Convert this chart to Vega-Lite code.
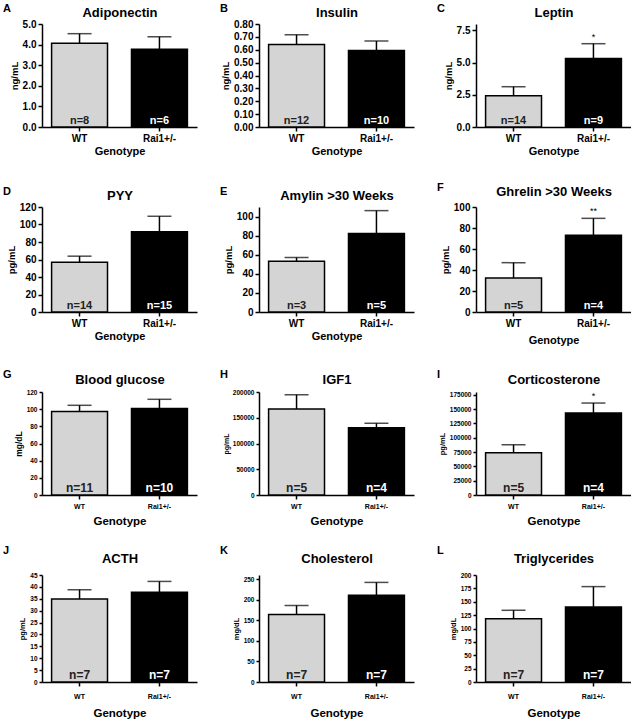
{
"$schema":"https://vega.github.io/schema/vega-lite/v6.json",
"padding":{"left":3,"top":3,"right":0,"bottom":0},
"data":{"values":[
{"panel":"A","genotype":"WT","mean":4.07,"upper":4.53,"nlabel":"n=8","sig":""},
{"panel":"A","genotype":"Rai1+/-","mean":3.78,"upper":4.38,"nlabel":"n=6","sig":""},
{"panel":"B","genotype":"WT","mean":0.64,"upper":0.716,"nlabel":"n=12","sig":""},
{"panel":"B","genotype":"Rai1+/-","mean":0.595,"upper":0.668,"nlabel":"n=10","sig":""},
{"panel":"C","genotype":"WT","mean":2.43,"upper":3.13,"nlabel":"n=14","sig":""},
{"panel":"C","genotype":"Rai1+/-","mean":5.32,"upper":6.47,"nlabel":"n=9","sig":"*"},
{"panel":"D","genotype":"WT","mean":57,"upper":63.8,"nlabel":"n=14","sig":""},
{"panel":"D","genotype":"Rai1+/-","mean":91.7,"upper":109.4,"nlabel":"n=15","sig":""},
{"panel":"E","genotype":"WT","mean":53.1,"upper":57,"nlabel":"n=3","sig":""},
{"panel":"E","genotype":"Rai1+/-","mean":82.3,"upper":106.2,"nlabel":"n=5","sig":""},
{"panel":"F","genotype":"WT","mean":32.4,"upper":47,"nlabel":"n=5","sig":""},
{"panel":"F","genotype":"Rai1+/-","mean":73,"upper":89.2,"nlabel":"n=4","sig":"**"},
{"panel":"G","genotype":"WT","mean":97.2,"upper":104.5,"nlabel":"n=11","sig":""},
{"panel":"G","genotype":"Rai1+/-","mean":100.7,"upper":111.5,"nlabel":"n=10","sig":""},
{"panel":"H","genotype":"WT","mean":167000,"upper":194700,"nlabel":"n=5","sig":""},
{"panel":"H","genotype":"Rai1+/-","mean":130700,"upper":139300,"nlabel":"n=4","sig":""},
{"panel":"I","genotype":"WT","mean":74000,"upper":87800,"nlabel":"n=5","sig":""},
{"panel":"I","genotype":"Rai1+/-","mean":143400,"upper":160700,"nlabel":"n=4","sig":"*"},
{"panel":"J","genotype":"WT","mean":34.9,"upper":38.8,"nlabel":"n=7","sig":""},
{"panel":"J","genotype":"Rai1+/-","mean":37.7,"upper":42.3,"nlabel":"n=7","sig":""},
{"panel":"K","genotype":"WT","mean":164,"upper":186,"nlabel":"n=7","sig":""},
{"panel":"K","genotype":"Rai1+/-","mean":211,"upper":242,"nlabel":"n=7","sig":""},
{"panel":"L","genotype":"WT","mean":118,"upper":134,"nlabel":"n=7","sig":""},
{"panel":"L","genotype":"Rai1+/-","mean":140.4,"upper":178.3,"nlabel":"n=7","sig":""}
]},
"columns":3,
"spacing":{"row":80,"column":62},
"bounds":"flush",
"concat":[
{"width":155,"height":103,"transform":[{"filter":"datum.panel==='A'"}],
 "title":{"text":"A","anchor":"start","frame":"group","dx":-39,"offset":-8},
 "resolve":{"axis":{"x":"independent","y":"independent"}},
 "layer":[
  {"mark":{"type":"bar","stroke":"black","strokeWidth":1.5},"encoding":{
   "x":{"field":"genotype","type":"nominal","sort":["WT","Rai1+/-"],"scale":{"paddingInner":0.3,"paddingOuter":0.12},"axis":{"orient":"bottom","title":"Genotype","labelFontSize":10,"titleFontSize":11,"labelPadding":2,"titlePadding":2}},
   "y":{"field":"mean","type":"quantitative","scale":{"domain":[0,5]},"axis":{"orient":"left","title":"ng/mL","values":[0,1,2,3,4,5],"format":".1f","labelFontSize":10,"titleFontSize":9.5}},
   "color":{"field":"genotype","type":"nominal","scale":{"domain":["WT","Rai1+/-"],"range":["#d4d4d4","#000000"]},"legend":null}}},
  {"mark":{"type":"rule","color":"black","strokeWidth":1.5},"encoding":{"x":{"field":"genotype","type":"nominal","sort":["WT","Rai1+/-"],"axis":null},"y":{"field":"mean","type":"quantitative","axis":null},"y2":{"field":"upper"}}},
  {"mark":{"type":"tick","color":"black","thickness":1.5,"size":24,"orient":"horizontal"},"encoding":{"x":{"field":"genotype","type":"nominal","sort":["WT","Rai1+/-"],"axis":null},"y":{"field":"upper","type":"quantitative","axis":null}}},
  {"mark":{"type":"text","fontWeight":"bold","fontSize":11,"baseline":"alphabetic","dy":-3},"encoding":{"x":{"field":"genotype","type":"nominal","sort":["WT","Rai1+/-"],"axis":null},"y":{"datum":0,"axis":null},"text":{"field":"nlabel"},"color":{"condition":{"test":"datum.genotype==='WT'","value":"#222222"},"value":"white"}}},
  {"mark":{"type":"text","fontSize":9,"baseline":"bottom","dy":-2},"encoding":{"x":{"field":"genotype","type":"nominal","sort":["WT","Rai1+/-"],"axis":{"orient":"top","title":"Adiponectin","labels":false,"ticks":false,"domain":false,"titleFontSize":13,"titlePadding":5}},"y":{"field":"upper","type":"quantitative","axis":null},"text":{"field":"sig"}}}
 ]},
{"width":155,"height":103,"transform":[{"filter":"datum.panel==='B'"}],
 "title":{"text":"B","anchor":"start","frame":"group","dx":-39,"offset":-8},
 "resolve":{"axis":{"x":"independent","y":"independent"}},
 "layer":[
  {"mark":{"type":"bar","stroke":"black","strokeWidth":1.5},"encoding":{
   "x":{"field":"genotype","type":"nominal","sort":["WT","Rai1+/-"],"scale":{"paddingInner":0.3,"paddingOuter":0.12},"axis":{"orient":"bottom","title":"Genotype","labelFontSize":10,"titleFontSize":11,"labelPadding":2,"titlePadding":2}},
   "y":{"field":"mean","type":"quantitative","scale":{"domain":[0,0.8]},"axis":{"orient":"left","title":"ng/mL","values":[0,0.1,0.2,0.3,0.4,0.5,0.6,0.7,0.8],"format":".2f","labelFontSize":10,"titleFontSize":9.5}},
   "color":{"field":"genotype","type":"nominal","scale":{"domain":["WT","Rai1+/-"],"range":["#d4d4d4","#000000"]},"legend":null}}},
  {"mark":{"type":"rule","color":"black","strokeWidth":1.5},"encoding":{"x":{"field":"genotype","type":"nominal","sort":["WT","Rai1+/-"],"axis":null},"y":{"field":"mean","type":"quantitative","axis":null},"y2":{"field":"upper"}}},
  {"mark":{"type":"tick","color":"black","thickness":1.5,"size":24,"orient":"horizontal"},"encoding":{"x":{"field":"genotype","type":"nominal","sort":["WT","Rai1+/-"],"axis":null},"y":{"field":"upper","type":"quantitative","axis":null}}},
  {"mark":{"type":"text","fontWeight":"bold","fontSize":11,"baseline":"alphabetic","dy":-3},"encoding":{"x":{"field":"genotype","type":"nominal","sort":["WT","Rai1+/-"],"axis":null},"y":{"datum":0,"axis":null},"text":{"field":"nlabel"},"color":{"condition":{"test":"datum.genotype==='WT'","value":"#222222"},"value":"white"}}},
  {"mark":{"type":"text","fontSize":9,"baseline":"bottom","dy":-2},"encoding":{"x":{"field":"genotype","type":"nominal","sort":["WT","Rai1+/-"],"axis":{"orient":"top","title":"Insulin","labels":false,"ticks":false,"domain":false,"titleFontSize":13,"titlePadding":5}},"y":{"field":"upper","type":"quantitative","axis":null},"text":{"field":"sig"}}}
 ]},
{"width":155,"height":103,"transform":[{"filter":"datum.panel==='C'"}],
 "title":{"text":"C","anchor":"start","frame":"group","dx":-39,"offset":-8},
 "resolve":{"axis":{"x":"independent","y":"independent"}},
 "layer":[
  {"mark":{"type":"bar","stroke":"black","strokeWidth":1.5},"encoding":{
   "x":{"field":"genotype","type":"nominal","sort":["WT","Rai1+/-"],"scale":{"paddingInner":0.3,"paddingOuter":0.12},"axis":{"orient":"bottom","title":"Genotype","labelFontSize":10,"titleFontSize":11,"labelPadding":2,"titlePadding":2}},
   "y":{"field":"mean","type":"quantitative","scale":{"domain":[0,7.5]},"axis":{"orient":"left","title":"ng/mL","values":[0,2.5,5,7.5],"format":".1f","labelFontSize":10,"titleFontSize":9.5}},
   "color":{"field":"genotype","type":"nominal","scale":{"domain":["WT","Rai1+/-"],"range":["#d4d4d4","#000000"]},"legend":null}}},
  {"mark":{"type":"rule","color":"black","strokeWidth":1.5},"encoding":{"x":{"field":"genotype","type":"nominal","sort":["WT","Rai1+/-"],"axis":null},"y":{"field":"mean","type":"quantitative","axis":null},"y2":{"field":"upper"}}},
  {"mark":{"type":"tick","color":"black","thickness":1.5,"size":24,"orient":"horizontal"},"encoding":{"x":{"field":"genotype","type":"nominal","sort":["WT","Rai1+/-"],"axis":null},"y":{"field":"upper","type":"quantitative","axis":null}}},
  {"mark":{"type":"text","fontWeight":"bold","fontSize":11,"baseline":"alphabetic","dy":-3},"encoding":{"x":{"field":"genotype","type":"nominal","sort":["WT","Rai1+/-"],"axis":null},"y":{"datum":0,"axis":null},"text":{"field":"nlabel"},"color":{"condition":{"test":"datum.genotype==='WT'","value":"#222222"},"value":"white"}}},
  {"mark":{"type":"text","fontSize":9,"baseline":"bottom","dy":-2},"encoding":{"x":{"field":"genotype","type":"nominal","sort":["WT","Rai1+/-"],"axis":{"orient":"top","title":"Leptin","labels":false,"ticks":false,"domain":false,"titleFontSize":13,"titlePadding":5}},"y":{"field":"upper","type":"quantitative","axis":null},"text":{"field":"sig"}}}
 ]},
{"width":155,"height":105,"transform":[{"filter":"datum.panel==='D'"}],
 "title":{"text":"D","anchor":"start","frame":"group","dx":-39,"offset":-8},
 "resolve":{"axis":{"x":"independent","y":"independent"}},
 "layer":[
  {"mark":{"type":"bar","stroke":"black","strokeWidth":1.5},"encoding":{
   "x":{"field":"genotype","type":"nominal","sort":["WT","Rai1+/-"],"scale":{"paddingInner":0.3,"paddingOuter":0.12},"axis":{"orient":"bottom","title":"Genotype","labelFontSize":10,"titleFontSize":11,"labelPadding":2,"titlePadding":2}},
   "y":{"field":"mean","type":"quantitative","scale":{"domain":[0,120]},"axis":{"orient":"left","title":"pg/mL","values":[0,20,40,60,80,100,120],"format":"d","labelFontSize":10,"titleFontSize":9.5}},
   "color":{"field":"genotype","type":"nominal","scale":{"domain":["WT","Rai1+/-"],"range":["#d4d4d4","#000000"]},"legend":null}}},
  {"mark":{"type":"rule","color":"black","strokeWidth":1.5},"encoding":{"x":{"field":"genotype","type":"nominal","sort":["WT","Rai1+/-"],"axis":null},"y":{"field":"mean","type":"quantitative","axis":null},"y2":{"field":"upper"}}},
  {"mark":{"type":"tick","color":"black","thickness":1.5,"size":24,"orient":"horizontal"},"encoding":{"x":{"field":"genotype","type":"nominal","sort":["WT","Rai1+/-"],"axis":null},"y":{"field":"upper","type":"quantitative","axis":null}}},
  {"mark":{"type":"text","fontWeight":"bold","fontSize":11,"baseline":"alphabetic","dy":-3},"encoding":{"x":{"field":"genotype","type":"nominal","sort":["WT","Rai1+/-"],"axis":null},"y":{"datum":0,"axis":null},"text":{"field":"nlabel"},"color":{"condition":{"test":"datum.genotype==='WT'","value":"#222222"},"value":"white"}}},
  {"mark":{"type":"text","fontSize":9,"baseline":"bottom","dy":-2},"encoding":{"x":{"field":"genotype","type":"nominal","sort":["WT","Rai1+/-"],"axis":{"orient":"top","title":"PYY","labels":false,"ticks":false,"domain":false,"titleFontSize":13,"titlePadding":5}},"y":{"field":"upper","type":"quantitative","axis":null},"text":{"field":"sig"}}}
 ]},
{"width":155,"height":105,"transform":[{"filter":"datum.panel==='E'"}],
 "title":{"text":"E","anchor":"start","frame":"group","dx":-39,"offset":-8},
 "resolve":{"axis":{"x":"independent","y":"independent"}},
 "layer":[
  {"mark":{"type":"bar","stroke":"black","strokeWidth":1.5},"encoding":{
   "x":{"field":"genotype","type":"nominal","sort":["WT","Rai1+/-"],"scale":{"paddingInner":0.3,"paddingOuter":0.12},"axis":{"orient":"bottom","title":"Genotype","labelFontSize":10,"titleFontSize":11,"labelPadding":2,"titlePadding":2}},
   "y":{"field":"mean","type":"quantitative","scale":{"domain":[0,110]},"axis":{"orient":"left","title":"pg/mL","values":[0,20,40,60,80,100],"format":"d","labelFontSize":10,"titleFontSize":9.5}},
   "color":{"field":"genotype","type":"nominal","scale":{"domain":["WT","Rai1+/-"],"range":["#d4d4d4","#000000"]},"legend":null}}},
  {"mark":{"type":"rule","color":"black","strokeWidth":1.5},"encoding":{"x":{"field":"genotype","type":"nominal","sort":["WT","Rai1+/-"],"axis":null},"y":{"field":"mean","type":"quantitative","axis":null},"y2":{"field":"upper"}}},
  {"mark":{"type":"tick","color":"black","thickness":1.5,"size":24,"orient":"horizontal"},"encoding":{"x":{"field":"genotype","type":"nominal","sort":["WT","Rai1+/-"],"axis":null},"y":{"field":"upper","type":"quantitative","axis":null}}},
  {"mark":{"type":"text","fontWeight":"bold","fontSize":11,"baseline":"alphabetic","dy":-3},"encoding":{"x":{"field":"genotype","type":"nominal","sort":["WT","Rai1+/-"],"axis":null},"y":{"datum":0,"axis":null},"text":{"field":"nlabel"},"color":{"condition":{"test":"datum.genotype==='WT'","value":"#222222"},"value":"white"}}},
  {"mark":{"type":"text","fontSize":9,"baseline":"bottom","dy":-2},"encoding":{"x":{"field":"genotype","type":"nominal","sort":["WT","Rai1+/-"],"axis":{"orient":"top","title":"Amylin >30 Weeks","labels":false,"ticks":false,"domain":false,"titleFontSize":13,"titlePadding":5}},"y":{"field":"upper","type":"quantitative","axis":null},"text":{"field":"sig"}}}
 ]},
{"width":155,"height":105,"transform":[{"filter":"datum.panel==='F'"}],
 "title":{"text":"F","anchor":"start","frame":"group","dx":-39,"offset":-8},
 "resolve":{"axis":{"x":"independent","y":"independent"}},
 "layer":[
  {"mark":{"type":"bar","stroke":"black","strokeWidth":1.5},"encoding":{
   "x":{"field":"genotype","type":"nominal","sort":["WT","Rai1+/-"],"scale":{"paddingInner":0.3,"paddingOuter":0.12},"axis":{"orient":"bottom","title":"Genotype","labelFontSize":10,"titleFontSize":11,"labelPadding":2,"titlePadding":6}},
   "y":{"field":"mean","type":"quantitative","scale":{"domain":[0,100]},"axis":{"orient":"left","title":"pg/mL","values":[0,20,40,60,80,100],"format":"d","labelFontSize":10,"titleFontSize":9.5}},
   "color":{"field":"genotype","type":"nominal","scale":{"domain":["WT","Rai1+/-"],"range":["#d4d4d4","#000000"]},"legend":null}}},
  {"mark":{"type":"rule","color":"black","strokeWidth":1.5},"encoding":{"x":{"field":"genotype","type":"nominal","sort":["WT","Rai1+/-"],"axis":null},"y":{"field":"mean","type":"quantitative","axis":null},"y2":{"field":"upper"}}},
  {"mark":{"type":"tick","color":"black","thickness":1.5,"size":24,"orient":"horizontal"},"encoding":{"x":{"field":"genotype","type":"nominal","sort":["WT","Rai1+/-"],"axis":null},"y":{"field":"upper","type":"quantitative","axis":null}}},
  {"mark":{"type":"text","fontWeight":"bold","fontSize":11,"baseline":"alphabetic","dy":-3},"encoding":{"x":{"field":"genotype","type":"nominal","sort":["WT","Rai1+/-"],"axis":null},"y":{"datum":0,"axis":null},"text":{"field":"nlabel"},"color":{"condition":{"test":"datum.genotype==='WT'","value":"#222222"},"value":"white"}}},
  {"mark":{"type":"text","fontSize":9,"baseline":"bottom","dy":-2},"encoding":{"x":{"field":"genotype","type":"nominal","sort":["WT","Rai1+/-"],"axis":{"orient":"top","title":"Ghrelin >30 Weeks","labels":false,"ticks":false,"domain":false,"titleFontSize":13,"titlePadding":9}},"y":{"field":"upper","type":"quantitative","axis":null},"text":{"field":"sig"}}}
 ]},
{"width":155,"height":103,"transform":[{"filter":"datum.panel==='G'"}],
 "title":{"text":"G","anchor":"start","frame":"group","dx":-39,"offset":-7},
 "resolve":{"axis":{"x":"independent","y":"independent"}},
 "layer":[
  {"mark":{"type":"bar","stroke":"black","strokeWidth":1.5},"encoding":{
   "x":{"field":"genotype","type":"nominal","sort":["WT","Rai1+/-"],"scale":{"paddingInner":0.3,"paddingOuter":0.12},"axis":{"orient":"bottom","title":"Genotype","labelFontSize":7,"titleFontSize":11.5,"labelPadding":3,"titlePadding":6}},
   "y":{"field":"mean","type":"quantitative","scale":{"domain":[0,120]},"axis":{"orient":"left","title":"mg/dL","values":[0,20,40,60,80,100,120],"format":"d","labelFontSize":6.5,"titleFontSize":8.5,"tickSize":3}},
   "color":{"field":"genotype","type":"nominal","scale":{"domain":["WT","Rai1+/-"],"range":["#d4d4d4","#000000"]},"legend":null}}},
  {"mark":{"type":"rule","color":"black","strokeWidth":1.5},"encoding":{"x":{"field":"genotype","type":"nominal","sort":["WT","Rai1+/-"],"axis":null},"y":{"field":"mean","type":"quantitative","axis":null},"y2":{"field":"upper"}}},
  {"mark":{"type":"tick","color":"black","thickness":1.5,"size":24,"orient":"horizontal"},"encoding":{"x":{"field":"genotype","type":"nominal","sort":["WT","Rai1+/-"],"axis":null},"y":{"field":"upper","type":"quantitative","axis":null}}},
  {"mark":{"type":"text","fontWeight":"bold","fontSize":12,"baseline":"alphabetic","dy":-3},"encoding":{"x":{"field":"genotype","type":"nominal","sort":["WT","Rai1+/-"],"axis":null},"y":{"datum":0,"axis":null},"text":{"field":"nlabel"},"color":{"condition":{"test":"datum.genotype==='WT'","value":"#222222"},"value":"white"}}},
  {"mark":{"type":"text","fontSize":9,"baseline":"bottom","dy":-2},"encoding":{"x":{"field":"genotype","type":"nominal","sort":["WT","Rai1+/-"],"axis":{"orient":"top","title":"Blood glucose","labels":false,"ticks":false,"domain":false,"titleFontSize":13,"titlePadding":6}},"y":{"field":"upper","type":"quantitative","axis":null},"text":{"field":"sig"}}}
 ]},
{"width":155,"height":103,"transform":[{"filter":"datum.panel==='H'"}],
 "title":{"text":"H","anchor":"start","frame":"group","dx":-39,"offset":-7},
 "resolve":{"axis":{"x":"independent","y":"independent"}},
 "layer":[
  {"mark":{"type":"bar","stroke":"black","strokeWidth":1.5},"encoding":{
   "x":{"field":"genotype","type":"nominal","sort":["WT","Rai1+/-"],"scale":{"paddingInner":0.3,"paddingOuter":0.12},"axis":{"orient":"bottom","title":"Genotype","labelFontSize":7,"titleFontSize":11.5,"labelPadding":3,"titlePadding":6}},
   "y":{"field":"mean","type":"quantitative","scale":{"domain":[0,200000]},"axis":{"orient":"left","title":"pg/mL","values":[0,50000,100000,150000,200000],"format":"d","labelFontSize":6.5,"titleFontSize":7,"tickSize":3}},
   "color":{"field":"genotype","type":"nominal","scale":{"domain":["WT","Rai1+/-"],"range":["#d4d4d4","#000000"]},"legend":null}}},
  {"mark":{"type":"rule","color":"black","strokeWidth":1.5},"encoding":{"x":{"field":"genotype","type":"nominal","sort":["WT","Rai1+/-"],"axis":null},"y":{"field":"mean","type":"quantitative","axis":null},"y2":{"field":"upper"}}},
  {"mark":{"type":"tick","color":"black","thickness":1.5,"size":24,"orient":"horizontal"},"encoding":{"x":{"field":"genotype","type":"nominal","sort":["WT","Rai1+/-"],"axis":null},"y":{"field":"upper","type":"quantitative","axis":null}}},
  {"mark":{"type":"text","fontWeight":"bold","fontSize":12,"baseline":"alphabetic","dy":-3},"encoding":{"x":{"field":"genotype","type":"nominal","sort":["WT","Rai1+/-"],"axis":null},"y":{"datum":0,"axis":null},"text":{"field":"nlabel"},"color":{"condition":{"test":"datum.genotype==='WT'","value":"#222222"},"value":"white"}}},
  {"mark":{"type":"text","fontSize":9,"baseline":"bottom","dy":-2},"encoding":{"x":{"field":"genotype","type":"nominal","sort":["WT","Rai1+/-"],"axis":{"orient":"top","title":"IGF1","labels":false,"ticks":false,"domain":false,"titleFontSize":13,"titlePadding":6}},"y":{"field":"upper","type":"quantitative","axis":null},"text":{"field":"sig"}}}
 ]},
{"width":155,"height":103,"transform":[{"filter":"datum.panel==='I'"}],
 "title":{"text":"I","anchor":"start","frame":"group","dx":-39,"offset":-7},
 "resolve":{"axis":{"x":"independent","y":"independent"}},
 "layer":[
  {"mark":{"type":"bar","stroke":"black","strokeWidth":1.5},"encoding":{
   "x":{"field":"genotype","type":"nominal","sort":["WT","Rai1+/-"],"scale":{"paddingInner":0.3,"paddingOuter":0.12},"axis":{"orient":"bottom","title":"Genotype","labelFontSize":7,"titleFontSize":11.5,"labelPadding":3,"titlePadding":6}},
   "y":{"field":"mean","type":"quantitative","scale":{"domain":[0,175000]},"axis":{"orient":"left","title":"pg/mL","values":[0,25000,50000,75000,100000,125000,150000,175000],"format":"d","labelFontSize":6.5,"titleFontSize":7.5,"tickSize":3}},
   "color":{"field":"genotype","type":"nominal","scale":{"domain":["WT","Rai1+/-"],"range":["#d4d4d4","#000000"]},"legend":null}}},
  {"mark":{"type":"rule","color":"black","strokeWidth":1.5},"encoding":{"x":{"field":"genotype","type":"nominal","sort":["WT","Rai1+/-"],"axis":null},"y":{"field":"mean","type":"quantitative","axis":null},"y2":{"field":"upper"}}},
  {"mark":{"type":"tick","color":"black","thickness":1.5,"size":24,"orient":"horizontal"},"encoding":{"x":{"field":"genotype","type":"nominal","sort":["WT","Rai1+/-"],"axis":null},"y":{"field":"upper","type":"quantitative","axis":null}}},
  {"mark":{"type":"text","fontWeight":"bold","fontSize":12,"baseline":"alphabetic","dy":-3},"encoding":{"x":{"field":"genotype","type":"nominal","sort":["WT","Rai1+/-"],"axis":null},"y":{"datum":0,"axis":null},"text":{"field":"nlabel"},"color":{"condition":{"test":"datum.genotype==='WT'","value":"#222222"},"value":"white"}}},
  {"mark":{"type":"text","fontSize":9,"baseline":"bottom","dy":-2},"encoding":{"x":{"field":"genotype","type":"nominal","sort":["WT","Rai1+/-"],"axis":{"orient":"top","title":"Corticosterone","labels":false,"ticks":false,"domain":false,"titleFontSize":13,"titlePadding":6}},"y":{"field":"upper","type":"quantitative","axis":null},"text":{"field":"sig"}}}
 ]},
{"width":155,"height":107,"transform":[{"filter":"datum.panel==='J'"}],
 "title":{"text":"J","anchor":"start","frame":"group","dx":-39,"offset":-4},
 "resolve":{"axis":{"x":"independent","y":"independent"}},
 "layer":[
  {"mark":{"type":"bar","stroke":"black","strokeWidth":1.5},"encoding":{
   "x":{"field":"genotype","type":"nominal","sort":["WT","Rai1+/-"],"scale":{"paddingInner":0.3,"paddingOuter":0.12},"axis":{"orient":"bottom","title":"Genotype","labelFontSize":7,"titleFontSize":11.5,"labelPadding":6,"titlePadding":8}},
   "y":{"field":"mean","type":"quantitative","scale":{"domain":[0,45]},"axis":{"orient":"left","title":"pg/mL","values":[0,5,10,15,20,25,30,35,40,45],"format":"d","labelFontSize":6.5,"titleFontSize":7.5,"tickSize":3}},
   "color":{"field":"genotype","type":"nominal","scale":{"domain":["WT","Rai1+/-"],"range":["#d4d4d4","#000000"]},"legend":null}}},
  {"mark":{"type":"rule","color":"black","strokeWidth":1.5},"encoding":{"x":{"field":"genotype","type":"nominal","sort":["WT","Rai1+/-"],"axis":null},"y":{"field":"mean","type":"quantitative","axis":null},"y2":{"field":"upper"}}},
  {"mark":{"type":"tick","color":"black","thickness":1.5,"size":24,"orient":"horizontal"},"encoding":{"x":{"field":"genotype","type":"nominal","sort":["WT","Rai1+/-"],"axis":null},"y":{"field":"upper","type":"quantitative","axis":null}}},
  {"mark":{"type":"text","fontWeight":"bold","fontSize":12,"baseline":"alphabetic","dy":-3},"encoding":{"x":{"field":"genotype","type":"nominal","sort":["WT","Rai1+/-"],"axis":null},"y":{"datum":0,"axis":null},"text":{"field":"nlabel"},"color":{"condition":{"test":"datum.genotype==='WT'","value":"#222222"},"value":"white"}}},
  {"mark":{"type":"text","fontSize":9,"baseline":"bottom","dy":-2},"encoding":{"x":{"field":"genotype","type":"nominal","sort":["WT","Rai1+/-"],"axis":{"orient":"top","title":"ACTH","labels":false,"ticks":false,"domain":false,"titleFontSize":13,"titlePadding":10}},"y":{"field":"upper","type":"quantitative","axis":null},"text":{"field":"sig"}}}
 ]},
{"width":155,"height":107,"transform":[{"filter":"datum.panel==='K'"}],
 "title":{"text":"K","anchor":"start","frame":"group","dx":-39,"offset":-4},
 "resolve":{"axis":{"x":"independent","y":"independent"}},
 "layer":[
  {"mark":{"type":"bar","stroke":"black","strokeWidth":1.5},"encoding":{
   "x":{"field":"genotype","type":"nominal","sort":["WT","Rai1+/-"],"scale":{"paddingInner":0.3,"paddingOuter":0.12},"axis":{"orient":"bottom","title":"Genotype","labelFontSize":7,"titleFontSize":11.5,"labelPadding":6,"titlePadding":8}},
   "y":{"field":"mean","type":"quantitative","scale":{"domain":[0,250]},"axis":{"orient":"left","title":"mg/dL","values":[0,50,100,150,200,250],"format":"d","labelFontSize":6.5,"titleFontSize":7.5,"tickSize":3}},
   "color":{"field":"genotype","type":"nominal","scale":{"domain":["WT","Rai1+/-"],"range":["#d4d4d4","#000000"]},"legend":null}}},
  {"mark":{"type":"rule","color":"black","strokeWidth":1.5},"encoding":{"x":{"field":"genotype","type":"nominal","sort":["WT","Rai1+/-"],"axis":null},"y":{"field":"mean","type":"quantitative","axis":null},"y2":{"field":"upper"}}},
  {"mark":{"type":"tick","color":"black","thickness":1.5,"size":24,"orient":"horizontal"},"encoding":{"x":{"field":"genotype","type":"nominal","sort":["WT","Rai1+/-"],"axis":null},"y":{"field":"upper","type":"quantitative","axis":null}}},
  {"mark":{"type":"text","fontWeight":"bold","fontSize":12,"baseline":"alphabetic","dy":-3},"encoding":{"x":{"field":"genotype","type":"nominal","sort":["WT","Rai1+/-"],"axis":null},"y":{"datum":0,"axis":null},"text":{"field":"nlabel"},"color":{"condition":{"test":"datum.genotype==='WT'","value":"#222222"},"value":"white"}}},
  {"mark":{"type":"text","fontSize":9,"baseline":"bottom","dy":-2},"encoding":{"x":{"field":"genotype","type":"nominal","sort":["WT","Rai1+/-"],"axis":{"orient":"top","title":"Cholesterol","labels":false,"ticks":false,"domain":false,"titleFontSize":13,"titlePadding":10}},"y":{"field":"upper","type":"quantitative","axis":null},"text":{"field":"sig"}}}
 ]},
{"width":155,"height":107,"transform":[{"filter":"datum.panel==='L'"}],
 "title":{"text":"L","anchor":"start","frame":"group","dx":-39,"offset":-4},
 "resolve":{"axis":{"x":"independent","y":"independent"}},
 "layer":[
  {"mark":{"type":"bar","stroke":"black","strokeWidth":1.5},"encoding":{
   "x":{"field":"genotype","type":"nominal","sort":["WT","Rai1+/-"],"scale":{"paddingInner":0.3,"paddingOuter":0.12},"axis":{"orient":"bottom","title":"Genotype","labelFontSize":7,"titleFontSize":11.5,"labelPadding":6,"titlePadding":8}},
   "y":{"field":"mean","type":"quantitative","scale":{"domain":[0,200]},"axis":{"orient":"left","title":"mg/dL","values":[0,25,50,75,100,125,150,175,200],"format":"d","labelFontSize":6.5,"titleFontSize":7.5,"tickSize":3}},
   "color":{"field":"genotype","type":"nominal","scale":{"domain":["WT","Rai1+/-"],"range":["#d4d4d4","#000000"]},"legend":null}}},
  {"mark":{"type":"rule","color":"black","strokeWidth":1.5},"encoding":{"x":{"field":"genotype","type":"nominal","sort":["WT","Rai1+/-"],"axis":null},"y":{"field":"mean","type":"quantitative","axis":null},"y2":{"field":"upper"}}},
  {"mark":{"type":"tick","color":"black","thickness":1.5,"size":24,"orient":"horizontal"},"encoding":{"x":{"field":"genotype","type":"nominal","sort":["WT","Rai1+/-"],"axis":null},"y":{"field":"upper","type":"quantitative","axis":null}}},
  {"mark":{"type":"text","fontWeight":"bold","fontSize":12,"baseline":"alphabetic","dy":-3},"encoding":{"x":{"field":"genotype","type":"nominal","sort":["WT","Rai1+/-"],"axis":null},"y":{"datum":0,"axis":null},"text":{"field":"nlabel"},"color":{"condition":{"test":"datum.genotype==='WT'","value":"#222222"},"value":"white"}}},
  {"mark":{"type":"text","fontSize":9,"baseline":"bottom","dy":-2},"encoding":{"x":{"field":"genotype","type":"nominal","sort":["WT","Rai1+/-"],"axis":{"orient":"top","title":"Triglycerides","labels":false,"ticks":false,"domain":false,"titleFontSize":13,"titlePadding":10}},"y":{"field":"upper","type":"quantitative","axis":null},"text":{"field":"sig"}}}
 ]}
],
"config":{
 "font":"Liberation Sans",
 "view":{"stroke":null},
 "axis":{"grid":false,"domainColor":"black","domainWidth":1.5,"tickColor":"black","tickWidth":1.5,"tickSize":4,"labelColor":"black","titleColor":"black","labelFontWeight":"bold","titleFontWeight":"bold","labelPadding":2,"titlePadding":3},
 "axisX":{"labelAngle":0},
 "title":{"fontSize":11,"fontWeight":"bold","color":"black"}
}
}
